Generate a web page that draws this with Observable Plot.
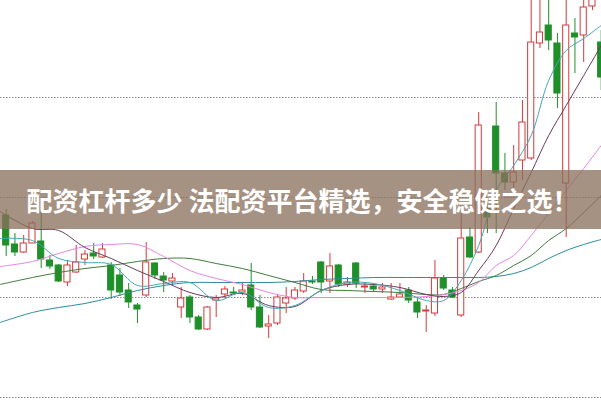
<!DOCTYPE html>
<html><head><meta charset="utf-8">
<script src="https://cdn.jsdelivr.net/npm/d3@7"></script>
<script src="https://cdn.jsdelivr.net/npm/@observablehq/plot@0.6"></script>
<style>
body{margin:0;background:#fff}
#wrap{position:relative;width:601px;height:400px;overflow:hidden;background:#fff}
#banner{position:absolute;left:0;top:170px;width:601px;height:59px;background:rgba(138,112,92,0.76);color:#fff;font-family:"Noto Sans CJK SC","Noto Sans",sans-serif;font-weight:bold;font-size:26px;display:flex;align-items:center;justify-content:center;white-space:nowrap;padding-left:4px;box-sizing:border-box}
</style></head><body>
<div id="wrap"><div id="chart"></div><div id="banner">配资杠杆多少 法配资平台精选，安全稳健之选！</div></div>
<script>
const open  = [11.82,11.53,11.45,11.54,11.56,11.37,11.32,11.15,11.25,11.38, 11.44,11.40,11.32,11.22,11.07,10.92,11.02,11.34,11.21,11.16, 10.90,11.00,10.80,10.68,10.97,11.03,11.05,11.05,11.12,10.90, 10.71,10.74,10.94,10.99,11.06,11.16,11.35,11.16,11.32,11.13, 11.34,11.10,11.11,11.08,10.98,11.00,11.07,10.95,10.86,10.84, 11.19,11.07,10.82,11.60,11.45,11.89,12.71,12.24,12.15,12.37, 12.39,13.54,13.72,13.54,12.14,13.64,13.62,13.91,13.55];
const close = [11.52,11.45,11.54,11.74,11.38,11.31,11.16,11.32,11.35,11.43, 11.41,11.48,11.07,11.05,10.95,10.88,11.35,11.22,11.17,11.19, 10.99,10.80,10.68,10.90,10.99,11.08,11.04,11.07,10.90,10.70, 10.73,11.00,10.99,11.07,11.16,11.15,11.15,11.31,11.13,11.15, 11.14,11.11,11.08,11.10,11.00,11.03,10.97,10.85,10.87,11.19, 11.09,11.00,11.59,11.40,12.72,11.80,12.24,12.15,12.25,12.75, 13.55,13.65,13.57,13.04,13.72,13.60,13.90,14.02,13.20];
const high  = [11.88,11.64,11.62,11.76,11.94,11.42,11.33,11.37,11.52,11.47, 11.54,11.54,11.35,11.29,11.14,10.94,11.55,11.35,11.25,11.24, 11.10,11.02,10.82,10.91,11.02,11.11,11.10,11.15,11.34,11.02, 10.82,11.02,11.10,11.10,11.24,11.21,11.36,11.44,11.33,11.20, 11.35,11.15,11.14,11.14,11.14,11.14,11.10,10.99,10.92,11.37, 11.22,11.10,11.84,11.70,12.85,11.99,12.95,12.44,12.52,12.97, 14.07,14.07,14.07,13.64,14.07,13.79,14.02,14.07,13.67];
const low   = [11.41,11.41,11.44,11.54,11.29,11.28,11.15,11.11,11.24,11.32, 11.38,11.39,10.98,11.01,10.89,10.74,11.00,11.18,11.05,11.12, 10.79,10.74,10.67,10.67,10.80,10.99,11.02,11.02,10.87,10.69, 10.59,10.72,10.84,10.97,11.04,11.13,11.04,11.04,11.10,11.10, 11.09,11.04,11.05,11.04,10.97,10.99,10.94,10.79,10.65,10.81, 11.07,10.99,10.80,11.39,11.44,11.64,11.64,12.07,12.04,12.17, 12.37,13.49,13.47,12.89,11.60,13.24,13.35,13.87,13.07];

// moving-average lines at these candle positions
const maIndex = [-0.7,3,6,9,12,15,18,21,24,27,30,33,36,39,42,45,48,50,52,54,56,58,60,62,64,66,68];
const ma5  = [11.59,11.57,11.39,11.35,11.33,11.12,11.14,11.15,10.97,11.05,10.90,10.92,11.07,11.15,11.14,11.07,10.97,10.97,11.17,11.52,12.07,12.32,12.62,13.17,13.47,13.59,13.72];
const ma10 = [11.86,11.69,11.67,11.50,11.39,11.27,11.16,11.05,11.00,11.04,10.92,10.91,11.07,11.13,11.13,11.10,11.03,11.01,11.05,11.27,11.52,11.89,12.25,12.62,12.92,13.22,13.52];
const ma20 = [11.31,11.36,11.44,11.51,11.53,11.53,11.41,11.27,11.19,11.13,11.05,11.00,11.00,11.00,11.00,11.00,11.01,11.03,11.07,11.15,11.32,11.42,11.62,11.84,12.07,12.29,12.52];
const ma30 = [11.13,11.20,11.25,11.29,11.32,11.36,11.39,11.39,11.34,11.29,11.22,11.15,11.08,11.07,11.06,11.05,11.03,11.03,11.09,11.16,11.22,11.32,11.42,11.57,11.69,11.85,12.02];
const ma60 = [10.75,10.85,10.90,10.94,11.00,11.07,11.12,11.15,11.15,11.15,11.15,11.16,11.18,11.19,11.20,11.20,11.20,11.20,11.20,11.20,11.21,11.24,11.30,11.39,11.47,11.53,11.58];
const gridValues = [10, 11, 12, 13];

const RED = "#d23a3a", GREEN = "#1f8f2a";
const candles = open.map((o, i) => ({i, open: o, close: close[i], high: high[i], low: low[i], up: close[i] >= o}));
const maSeries = [
  {name: "ma60", values: ma60, color: "#2f8c9c"},
  {name: "ma30", values: ma30, color: "#3f7d3a"},
  {name: "ma20", values: ma20, color: "#e387e3"},
  {name: "ma10", values: ma10, color: "#6b3a5c"},
  {name: "ma5",  values: ma5,  color: "#45a7b6"}
];
const maRows = maSeries.flatMap(s => s.values.map((v, k) => ({name: s.name, i: maIndex[k], v, color: s.color})));

const chart = Plot.plot({
  width: 601, height: 400, margin: 0,
  x: {domain: [-0.651, 68.034], axis: null},
  y: {domain: [9.97, 13.97], axis: null},
  marks: [
    Plot.ruleY(gridValues, {stroke: "#8a8a8a", strokeDasharray: "1.5,1.5", strokeWidth: 1}),
    Plot.ruleX(candles, {x: "i", y1: "low", y2: "high", stroke: d => d.up ? RED : GREEN, strokeWidth: 1, clip: true}),
    Plot.rect(candles, {x1: d => d.i - 0.35, x2: d => d.i + 0.35, y1: "open", y2: "close",
      fill: d => d.up ? "#ffffff" : GREEN, stroke: d => d.up ? RED : GREEN, strokeWidth: 1, clip: true}),
    Plot.line(maRows, {x: "i", y: "v", z: "name", stroke: "color", strokeWidth: 1, curve: "catmull-rom", clip: true})
  ]
});
document.getElementById("chart").appendChild(chart);
</script>
</body></html>
